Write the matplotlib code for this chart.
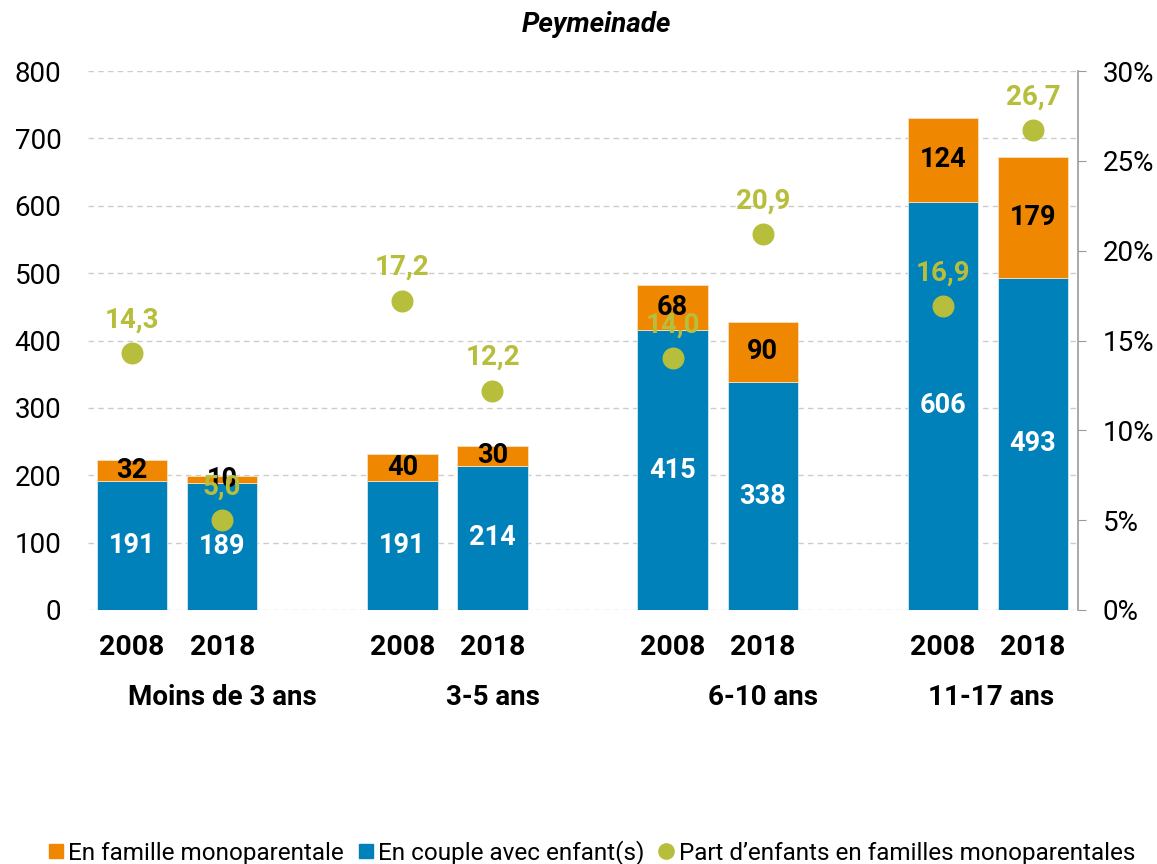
import numpy as np
import matplotlib
matplotlib.use('Agg')
import matplotlib.pyplot as plt
from matplotlib.lines import Line2D

plt.rcParams['font.family'] = ['Roboto', 'DejaVu Sans']

groupes = ['Moins de 3 ans', '3-5 ans', '6-10 ans', '11-17 ans']
annees = ['2008', '2018', '2008', '2018', '2008', '2018', '2008', '2018']
couple = [191, 189, 191, 214, 415, 338, 606, 493]
mono = [32, 10, 40, 30, 68, 90, 124, 179]
part = [14.3, 5.0, 17.2, 12.2, 14.0, 20.9, 16.9, 26.7]

c_orange = '#F08700'
c_bleu = '#0081BA'
c_vert = '#B7BE3B'

x = np.array([0, 1, 3, 4, 6, 7, 9, 10])
x_groupes = [1.0, 4.0, 7.0, 9.53]

fig = plt.figure(figsize=(11.57, 8.64), dpi=100)
ax = fig.add_axes([88/1157, 1 - 610/864, 990/1157, 539/864])
ax2 = ax.twinx()

ax.bar(x, couple, width=0.78, color=c_bleu, edgecolor='#d8e8f0', linewidth=0.6, zorder=2)
ax.bar(x, mono, bottom=couple, width=0.78, color=c_orange, edgecolor='#f8e0c0', linewidth=0.6,
       zorder=2)

for xi, c, m in zip(x, couple, mono):
    ax.text(xi, c / 2, str(c), ha='center', va='center', color='white',
            fontsize=19.5, fontweight='bold', zorder=3)
    ax.text(xi, c + m / 2, str(m), ha='center', va='center', color='black',
            fontsize=19.5, fontweight='bold', zorder=3)

ax.set_ylim(0, 800)
ax.set_yticks(range(0, 801, 100))
ax.set_xlim(-0.49, 10.5)
ax.grid(axis='y', color='#cccccc', linestyle=(0, (4, 3)), linewidth=1, zorder=0)
ax.set_axisbelow(True)
for s in ['top', 'right', 'left', 'bottom']:
    ax.spines[s].set_visible(False)
ax.tick_params(axis='y', length=0, labelsize=20, pad=19)
ax.set_xticks(x)
ax.set_xticklabels(annees, fontsize=20.5, fontweight='bold')
ax.tick_params(axis='x', length=0, pad=17)

ax2.scatter(x, part, s=220, color=c_vert, zorder=4)
for xi, p in zip(x, part):
    ax2.annotate(('%.1f' % p).replace('.', ','), (xi, p), xytext=(0, 24),
                 textcoords='offset points', ha='center', va='center',
                 color=c_vert, fontsize=20, fontweight='bold', zorder=5)
ax2.set_ylim(0, 30)
ax2.set_yticks(range(0, 31, 5))
ax2.set_yticklabels(['%d%%' % v for v in range(0, 31, 5)])
for s in ['top', 'left', 'bottom']:
    ax2.spines[s].set_visible(False)
ax2.spines['right'].set_color('#999999')
ax2.spines['right'].set_linewidth(1.2)
ax2.tick_params(axis='y', length=6, color='#999999', labelsize=20, pad=12)

for xg, g in zip(x_groupes, groupes):
    ax.text(xg, -0.162, g, transform=ax.get_xaxis_transform(),
            ha='center', va='center', fontsize=20, fontweight='bold')

fig.text(596/1157, 1 - 25/864, 'Peymeinade', ha='center', va='center',
         fontsize=20, fontweight='bold', fontstyle='italic')

handles = [Line2D([], [], marker='s', linestyle='none', color=c_orange, markersize=10),
           Line2D([], [], marker='s', linestyle='none', color=c_bleu, markersize=10),
           Line2D([], [], marker='o', linestyle='none', color=c_vert, markersize=11)]
labels = ['En famille monoparentale', 'En couple avec enfant(s)',
          "Part d\u2019enfants en familles monoparentales"]
fig.legend(handles, labels, loc='center',
           bbox_to_anchor=(592/1157, 1 - 853/864), ncol=3, frameon=False,
           fontsize=17.5, handlelength=0.6, handletextpad=0.2, columnspacing=0.6,
           borderaxespad=0)

fig.savefig('out.png', dpi=100)
